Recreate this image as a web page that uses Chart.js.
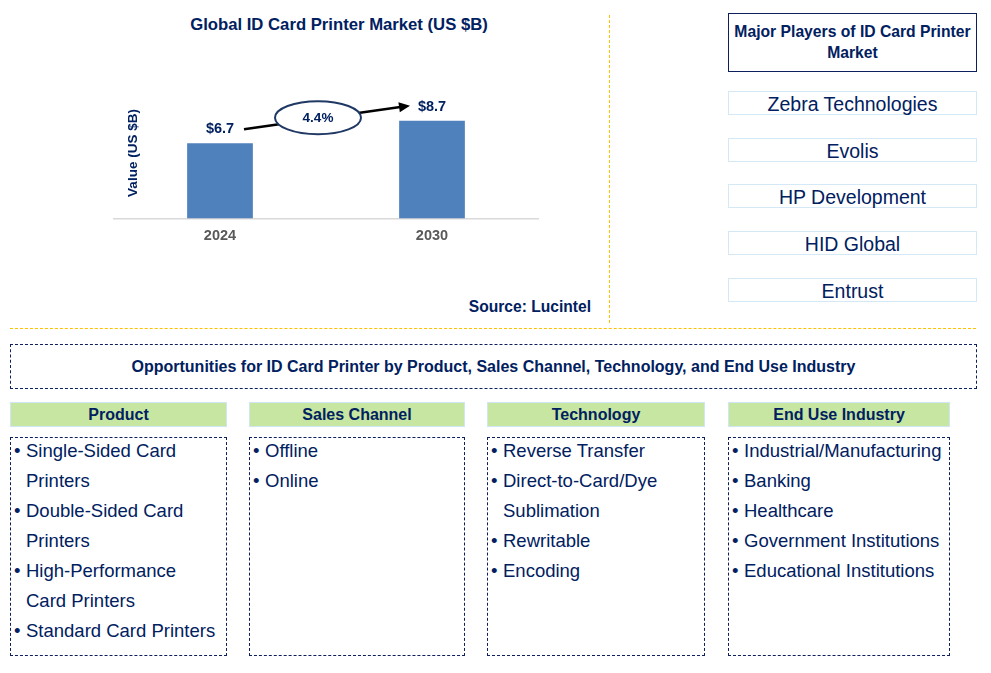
<!DOCTYPE html>
<html>
<head>
<meta charset="utf-8">
<script src="https://cdn.jsdelivr.net/npm/chart.js@4"></script>
<style>
  body { margin: 0; background: #fff; font-family: "Liberation Sans", Arial, sans-serif; color: #002060; }
  #page { position: relative; width: 991px; height: 673px; overflow: hidden; }
  .abs { position: absolute; box-sizing: border-box; }
  #chartTitle { left: 139px; top: 15px; width: 400px; text-align: center; font-weight: bold; font-size: 16.7px; }
  #source { left: 390px; top: 298px; width: 201px; text-align: right; font-weight: bold; font-size: 15.6px; }
  #vline { left: 609px; top: 15px; height: 308px; border-left: 1px dashed #ffc000; }
  #hline { left: 10px; top: 328px; width: 966px; border-top: 1px dashed #ffc000; }
  #playersHead { left: 728px; top: 13px; width: 249px; height: 59px; border: 1.5px solid #0d1f5c;
    font-weight: bold; font-size: 15.7px; text-align: center; line-height: 21px; padding-top: 7px; white-space: nowrap; }
  .player { left: 728px; width: 249px; height: 24px; border: 1.5px solid #d4e8f5; text-align: center;
    font-size: 19.5px; line-height: 23px; padding-top: 1px; }
  #oppBox { left: 10px; top: 344px; width: 967px; height: 45px; border: 1px dashed #0d1f5c;
    text-align: center; font-weight: bold; font-size: 16px; line-height: 43px; }
  .segHead { top: 402px; height: 25px; background: #c6e6a1; border: 1px solid #cfe6f3; text-align: center;
    font-weight: bold; font-size: 16px; line-height: 23px; }
  .segBox { top: 437px; height: 219px; border: 1px dashed #0d1f5c; font-size: 18.5px; line-height: 30px; padding-top: 0; }
  .segBox .list { margin-top: -2px; }
  .item { position: relative; padding-left: 15px; white-space: nowrap; }
  .item::before { content: "\2022"; position: absolute; left: 3px; }
</style>
</head>
<body>
<div id="page">
  <div class="abs" id="chartTitle">Global ID Card Printer Market (US $B)</div>
  <canvas class="abs" id="marketChart" width="600" height="260" style="left:0;top:0;"></canvas>
  <div class="abs" id="source">Source: Lucintel</div>
  <div class="abs" id="vline"></div>
  <div class="abs" id="hline"></div>
  <div class="abs" id="playersHead">Major Players of ID Card Printer<br>Market</div>
  <div id="players"></div>
  <div class="abs" id="oppBox">Opportunities for ID Card Printer by Product, Sales Channel, Technology, and End Use Industry</div>
  <div id="segments"></div>
</div>
<script>
// chart data
const years = ['2024', '2030'];
const marketValues = [6.7, 8.7];
const cagrLabel = '4.4%';

// side panels
const players = ['Zebra Technologies', 'Evolis', 'HP Development', 'HID Global', 'Entrust'];
const playerTops = [91, 138, 184, 231, 278];
const segmentNames = ['Product', 'Sales Channel', 'Technology', 'End Use Industry'];
const productItems = ['Single-Sided Card<br>Printers', 'Double-Sided Card<br>Printers', 'High-Performance<br>Card Printers', 'Standard Card Printers'];
const channelItems = ['Offline', 'Online'];
const technologyItems = ['Reverse Transfer', 'Direct-to-Card/Dye<br>Sublimation', 'Rewritable', 'Encoding'];
const endUseItems = ['Industrial/Manufacturing', 'Banking', 'Healthcare', 'Government Institutions', 'Educational Institutions'];
const segmentCols = [[10, 217], [249, 216], [487, 218], [728, 222]];

const NAVY = '#002060';

const playersEl = document.getElementById('players');
players.forEach((p, i) => {
    const d = document.createElement('div');
    d.className = 'abs player';
    d.style.top = playerTops[i] + 'px';
    d.textContent = p;
    playersEl.appendChild(d);
});

const segEl = document.getElementById('segments');
[productItems, channelItems, technologyItems, endUseItems].forEach((items, i) => {
    const [left, width] = segmentCols[i];
    const head = document.createElement('div');
    head.className = 'abs segHead';
    head.style.left = left + 'px';
    head.style.width = width + 'px';
    head.textContent = segmentNames[i];
    segEl.appendChild(head);
    const box = document.createElement('div');
    box.className = 'abs segBox';
    box.style.left = left + 'px';
    box.style.width = width + 'px';
    box.innerHTML = '<div class="list">' + items.map(t => '<div class="item">' + t + '</div>').join('') + '</div>';
    segEl.appendChild(box);
});

// labels, growth arrow and axis title
const annotations = {
    id: 'annotations',
    afterDatasetsDraw(chart) {
        const ctx = chart.ctx;
        const bars = chart.getDatasetMeta(0).data;
        ctx.save();
        ctx.fillStyle = NAVY;
        ctx.textAlign = 'center';
        ctx.textBaseline = 'middle';
        ctx.font = 'bold 14.5px "Liberation Sans", Arial';
        bars.forEach((b, i) => {
            ctx.fillText('$' + marketValues[i].toFixed(1), b.x, b.y - 14);
        });

        // arrow
        const x1 = bars[0].x + 24, y1 = bars[0].y - 14;
        const x2 = bars[1].x - 22, y2 = bars[1].y - 15;
        const ang = Math.atan2(y2 - y1, x2 - x1);
        ctx.strokeStyle = '#000';
        ctx.lineWidth = 2.5;
        ctx.beginPath();
        ctx.moveTo(x1, y1);
        ctx.lineTo(x2 - 8 * Math.cos(ang), y2 - 8 * Math.sin(ang));
        ctx.stroke();
        ctx.fillStyle = '#000';
        ctx.beginPath();
        ctx.moveTo(x2, y2);
        ctx.lineTo(x2 - 11 * Math.cos(ang) + 5 * Math.sin(ang), y2 - 11 * Math.sin(ang) - 5 * Math.cos(ang));
        ctx.lineTo(x2 - 11 * Math.cos(ang) - 5 * Math.sin(ang), y2 - 11 * Math.sin(ang) + 5 * Math.cos(ang));
        ctx.closePath();
        ctx.fill();

        // CAGR bubble
        const cx = (bars[0].x + bars[1].x) / 2 - 8;
        const cy = y1 + (y2 - y1) * (cx - x1) / (x2 - x1) - 1;
        ctx.beginPath();
        ctx.ellipse(cx, cy, 43, 16.5, 0, 0, Math.PI * 2);
        ctx.fillStyle = '#fff';
        ctx.fill();
        ctx.lineWidth = 2;
        ctx.strokeStyle = '#1f3864';
        ctx.stroke();
        ctx.fillStyle = NAVY;
        ctx.font = 'bold 13.5px "Liberation Sans", Arial';
        ctx.fillText(cagrLabel, cx, cy + 1);

        // y axis title
        ctx.translate(133, 153);
        ctx.rotate(-Math.PI / 2);
        ctx.font = 'bold 13.5px "Liberation Sans", Arial';
        ctx.fillText('Value (US $B)', 0, 0);
        ctx.restore();
    }
};

new Chart(document.getElementById('marketChart'), {
    type: 'bar',
    data: {
        labels: years,
        datasets: [{
            data: marketValues,
            backgroundColor: '#4f81bd',
            barPercentage: 0.31,
            categoryPercentage: 1.0
        }]
    },
    options: {
        responsive: false,
        animation: false,
        layout: { padding: { left: 114, right: 62, top: 61, bottom: 6 } },
        plugins: { legend: { display: false }, tooltip: { enabled: false } },
        scales: {
            y: { display: false, min: 0, max: 14 },
            x: {
                offset: true,
                grid: { display: false, drawTicks: false },
                border: { display: true, color: '#d9d9d9', width: 1.5 },
                ticks: { color: '#595959', padding: 9, font: { family: '"Liberation Sans", Arial', size: 14.5, weight: 'bold' } }
            }
        }
    },
    plugins: [annotations]
});
</script>
</body>
</html>
